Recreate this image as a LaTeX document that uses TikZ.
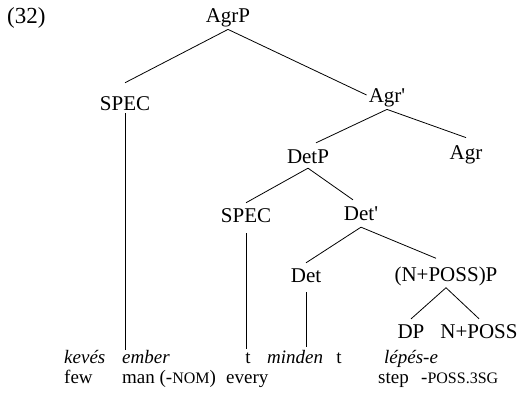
\documentclass[tikz,border=0pt]{standalone}
\usepackage{fontspec}
\setmainfont{Liberation Serif}
\newcommand\smc[1]{{\fontsize{16}{16}\selectfont #1}}
\begin{document}
\begin{tikzpicture}[x=1pt,y=-1pt,
  lab/.style={font=\fontsize{21}{21}\selectfont, inner sep=2pt},
  word/.style={font=\fontsize{19}{19}\selectfont\itshape, inner sep=0pt, anchor=base west},
  gloss/.style={font=\fontsize{19}{19}\selectfont, inner sep=0pt, anchor=base west},
  branch/.style={line width=0.8pt}]
\useasboundingbox (0,0) rectangle (528,408);
% tree labels
\node[lab, anchor=west, font=\fontsize{23}{23}\selectfont] (ex) at (5,18) {(32)};
\node[lab] (agrp) at (228,18) {AgrP};
\node[lab] (spec1) at (125,104) {SPEC};
\node[lab] (agrbar) at (387,98) {Agr\textquotesingle};
\node[lab] (detp) at (308,157) {DetP};
\node[lab] (agr) at (466,155) {Agr};
\node[lab] (spec2) at (246,216) {SPEC};
\node[lab] (detbar) at (361,214) {Det\textquotesingle};
\node[lab] (det) at (306,276) {Det};
\node[lab] (npp) at (446,276) {(N+POSS)P};
\node[lab] (dp) at (411,332) {DP};
\node[lab] (np) at (479,332) {N+POSS};
% words
\node[word] (w1) at (64,363) {kevés};
\node[word] (w2) at (122,363) {ember};
\node[gloss, anchor=base] (w3) at (248,363) {t};
\node[word] (w4) at (267,363) {minden};
\node[gloss, anchor=base] (w5) at (339,363) {t};
\node[word] (w6) at (384,363) {lépés-e};
\node[gloss] (g1) at (64,383) {few};
\node[gloss] (g2) at (122,383) {man (-\smc{NOM})};
\node[gloss] (g3) at (226,383) {every};
\node[gloss] (g4) at (378,383) {step};
\node[gloss] (g5) at (421,383) {-\smc{POSS.3SG}};
% free ends of the vertical lines
\coordinate (e1) at (125,350);
\coordinate (e2) at (246,349);
\coordinate (e3) at (306,347);
% branches
\draw[branch] (agrp.south) -- ([yshift=12pt]spec1.north);
\draw[branch] (agrp.south) -- ([yshift=3pt]agrbar.west);
\draw[branch] (agrbar.south) -- ([xshift=8pt,yshift=5pt]detp.north);
\draw[branch] (agrbar.south) -- ([yshift=6pt]agr.north);
\draw[branch] ([yshift=-2pt]detp.south) -- ([yshift=4pt]spec2.north);
\draw[branch] ([yshift=-2pt]detp.south) -- ([xshift=-8pt,yshift=5pt]detbar.north);
\draw[branch] ([yshift=-4pt]detbar.south) -- ([yshift=4pt]det.north);
\draw[branch] ([yshift=-4pt]detbar.south) -- ([xshift=-10pt,yshift=6pt]npp.north);
\draw[branch] (npp.south) -- ([yshift=4pt]dp.north);
\draw[branch] (npp.south) -- ([yshift=4pt]np.north);
\draw[branch] (spec1.south) -- (e1);
\draw[branch] ([yshift=-8pt]spec2.south) -- (e2);
\draw[branch] ([yshift=-7pt]det.south) -- (e3);
\end{tikzpicture}
\end{document}
